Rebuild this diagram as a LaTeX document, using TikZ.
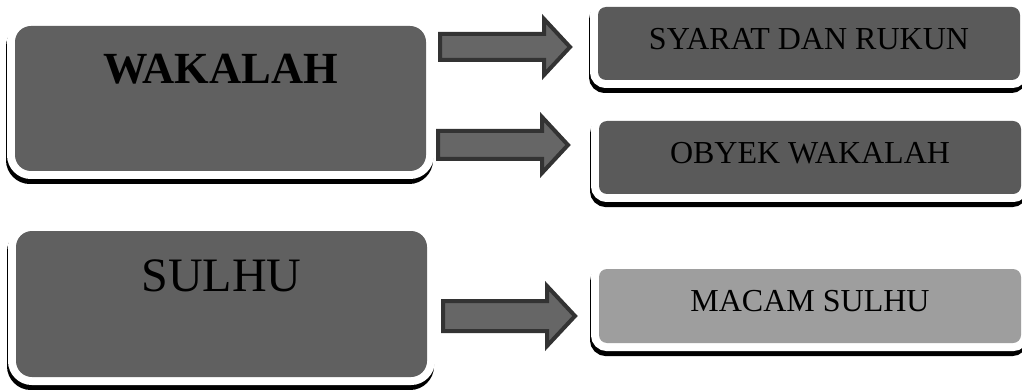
\documentclass[tikz,border=0pt]{standalone}
\usepackage{fontspec}
\setmainfont{Liberation Serif}
\usepackage{tikz}

\definecolor{boxgrey}{HTML}{606060}
\definecolor{itemgrey}{HTML}{5A5A5A}
\definecolor{lightgrey}{HTML}{9E9E9E}
\definecolor{arrowfill}{HTML}{666666}
\definecolor{arrowline}{HTML}{333333}

\tikzset{
  framed/.style={rectangle, fill=boxgrey, text=black,
    preaction={draw=black, line width=16pt, transform canvas={xshift=-1pt,yshift=-5pt}},
    preaction={draw=white, line width=16pt}},
  mainbox/.style={framed, rounded corners=16pt, minimum width=411pt, minimum height=145pt},
  itembox/.style={framed, fill=itemgrey, rounded corners=8pt, minimum width=422pt,
    minimum height=73pt, font=\fontsize{32}{36}\selectfont, text depth=10pt},
  blockarrow/.style={fill=arrowfill, draw=arrowline, line width=4pt}
}

\begin{document}
\begin{tikzpicture}[x=1pt,y=-1pt]
\useasboundingbox (0,0) rectangle (1022,390);
\clip (0,0) rectangle (1022,390);

\node[mainbox, font=\bfseries\fontsize{44.5}{50}\selectfont, text depth=60pt] (wakalah) at (220.5,98.5) {WAKALAH};
\node[mainbox, minimum height=146pt, font=\fontsize{48}{54}\selectfont, text depth=56pt] (sulhu) at (221.5,304) {SULHU};

\node[itembox] (syarat) at (809,43.5) {SYARAT DAN RUKUN};
\node[itembox] (obyek) at (810,157.5) {OBYEK WAKALAH};
\node[itembox, fill=lightgrey, minimum height=74pt] (macam) at (810,306) {MACAM SULHU};

% block arrows
\draw[blockarrow] (440,34) -- (544,34) -- (544,19) -- (570,47) -- (544,75) -- (544,60) -- (440,60) -- cycle;
\draw[blockarrow] (438,131) -- (542,131) -- (542,117) -- (568,145) -- (542,173) -- (542,159) -- (438,159) -- cycle;
\draw[blockarrow] (443,301) -- (547,301) -- (547,286) -- (575,316) -- (547,346) -- (547,331) -- (443,331) -- cycle;
\end{tikzpicture}
\end{document}
